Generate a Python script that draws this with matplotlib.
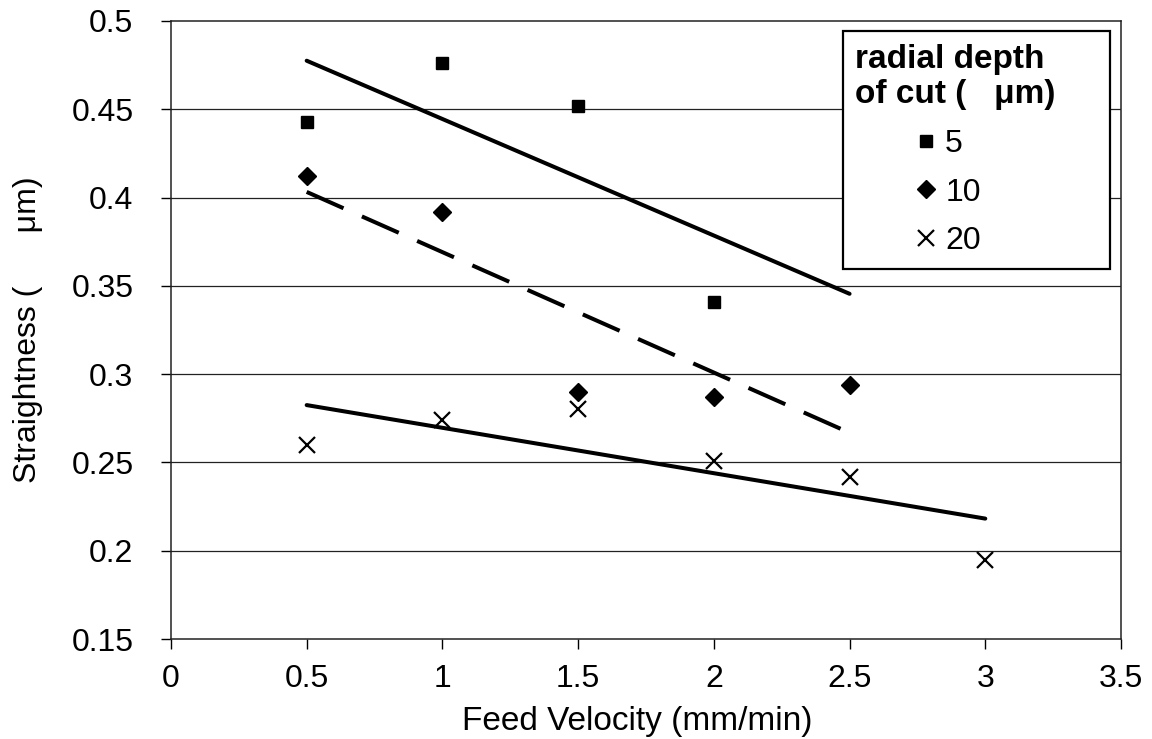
import matplotlib
matplotlib.use("Agg")
import matplotlib.pyplot as plt
import numpy as np

plt.rcParams['font.family'] = ['Liberation Sans', 'DejaVu Sans']

# straightness vs feed velocity for three radial depths of cut
feed_5 = [0.5, 1.0, 1.5, 2.0]
straight_5 = [0.443, 0.476, 0.452, 0.341]

feed_10 = [0.5, 1.0, 1.5, 2.0, 2.5]
straight_10 = [0.412, 0.392, 0.290, 0.287, 0.294]

feed_20 = [0.5, 1.0, 1.5, 2.0, 2.5, 3.0]
straight_20 = [0.260, 0.274, 0.280, 0.251, 0.242, 0.195]

depth_labels = ['5', '10', '20']


def trend(x, y, x_end):
    # linear least squares trendline, drawn from first point to x_end
    k, b = np.polyfit(x, y, 1)
    xs = np.array([x[0], x_end])
    return xs, k * xs + b


fig = plt.figure(figsize=(11.52, 7.39), dpi=100)
ax = fig.add_axes([0.1484, 0.1353, 0.8247, 0.8363])

for yv in np.arange(0.2, 0.5, 0.05):
    ax.axhline(yv, color='#222222', lw=0.9, zorder=0)

ax.plot(feed_5, straight_5, 's', color='k', ms=9, ls='none', label=depth_labels[0])
ax.plot(feed_10, straight_10, 'D', color='k', ms=9, ls='none', label=depth_labels[1])
ax.plot(feed_20, straight_20, 'x', color='k', ms=11, mew=1.6, ls='none', label=depth_labels[2])

xs, ys = trend(feed_5, straight_5, 2.5)
ax.plot(xs, ys, color='k', lw=2.9, solid_capstyle='round')
xs, ys = trend(feed_10, straight_10, 2.5)
ax.plot(xs, ys, color='k', lw=2.9, dashes=(10, 5))
xs, ys = trend(feed_20, straight_20, 3.0)
ax.plot(xs, ys, color='k', lw=2.9, solid_capstyle='round')

ax.set_xlim(0, 3.5)
ax.set_ylim(0.15, 0.5)
ax.set_xticks(np.arange(0, 3.51, 0.5))
ax.set_xticklabels(['0', '0.5', '1', '1.5', '2', '2.5', '3', '3.5'])
ax.set_yticks(np.arange(0.15, 0.501, 0.05))
ax.set_yticklabels(['0.15', '0.2', '0.25', '0.3', '0.35', '0.4', '0.45', '0.5'])
ax.tick_params(axis='x', direction='out', length=7, width=1, pad=11, labelsize=23)
ax.tick_params(axis='y', direction='out', length=7, width=1, pad=20, labelsize=23)
for s in ax.spines.values():
    s.set_linewidth(1.1)
    s.set_color('#222222')

ax.set_xlabel('Feed Velocity (mm/min)', fontsize=24)
ax.set_ylabel('Straightness (      \u03bcm)', fontsize=23)
ax.xaxis.set_label_coords(0.491, -0.108)
ax.yaxis.set_label_coords(-0.135, 0.5)

leg = ax.legend(title='radial depth\nof cut (   \u03bcm)', loc='upper left',
                bbox_to_anchor=(0.707, 0.5, 0.281, 0.484), mode='expand',
                borderaxespad=0, fontsize=23,
                title_fontproperties={'weight': 'bold', 'size': 24},
                alignment='left', handlelength=4.44, handletextpad=-1.63,
                labelspacing=0.58, fancybox=False, framealpha=1,
                edgecolor='k', borderpad=0.4)
leg.get_frame().set_linewidth(1.6)

fig.savefig('out.png', dpi=100)
